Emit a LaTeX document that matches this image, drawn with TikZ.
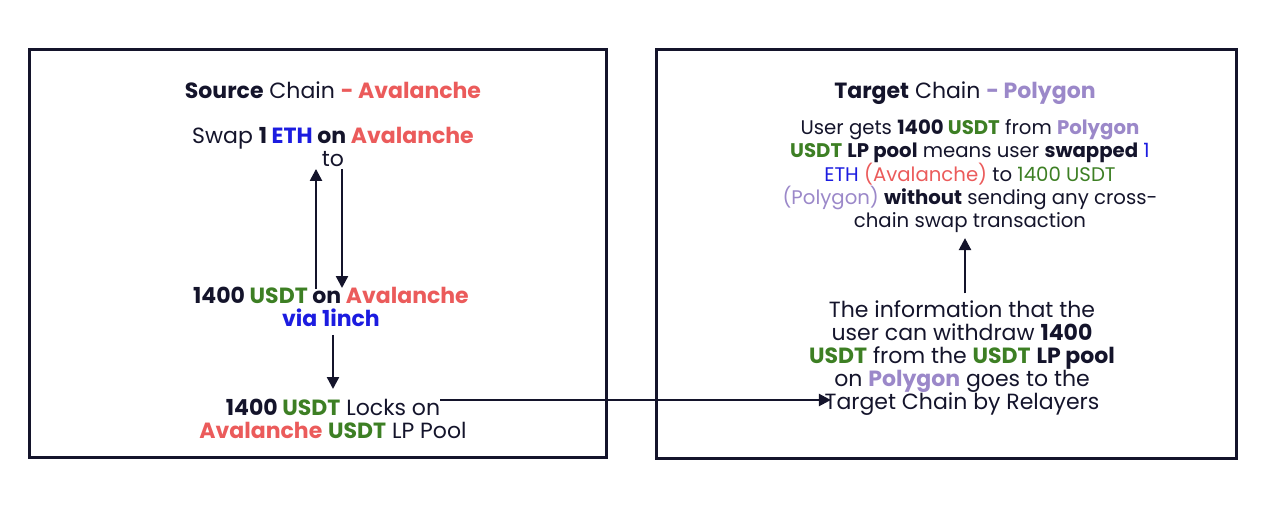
\documentclass[tikz,border=0pt]{standalone}
\usepackage{fontspec}
\setmainfont{Poppins}
\usetikzlibrary{arrows.meta,calc}
\definecolor{ink}{HTML}{14142B}
\definecolor{avred}{HTML}{EB5B5B}
\definecolor{usgreen}{HTML}{3D7F24}
\definecolor{ethblue}{HTML}{1C1CE0}
\definecolor{polyp}{HTML}{9B88C9}
\tikzset{
  txt/.style={align=center, text=ink, font=\fontsize{22}{23}\selectfont, inner sep=2pt},
  small/.style={font=\fontsize{19.7}{23}\selectfont},
  panel/.style={draw=ink, line width=2.6pt},
  arr/.style={draw=ink, line width=2.4pt, -{Triangle[length=12pt,width=12pt]}},
}
\newcommand{\R}[1]{\textcolor{avred}{#1}}
\newcommand{\G}[1]{\textcolor{usgreen}{#1}}
\newcommand{\Bl}[1]{\textcolor{ethblue}{#1}}
\newcommand{\Pp}[1]{\textcolor{polyp}{#1}}
\begin{document}
\begin{tikzpicture}[x=1pt,y=-1pt]
\useasboundingbox (0,0) rectangle (1274,508);
\node[panel, minimum width=577pt, minimum height=408pt, anchor=north west] (left) at (28,48) {};
\node[panel, minimum width=580pt, minimum height=409pt, anchor=north west] (right) at (655,48) {};

\node[txt] (t1) at (333,90) {\textbf{Source} Chain \R{\textbf{- Avalanche}}};
\node[txt] (swap) at (333,147) {Swap \textbf{1 \Bl{ETH} on \R{Avalanche}}\\to};
\node[txt] (usdt1) at (331,307) {\textbf{1400 \G{USDT} on \R{Avalanche}}\\\Bl{\textbf{via 1inch}}};
\node[txt] (lock) at (333,419) {\textbf{1400 \G{USDT}} Locks on\\\R{\textbf{Avalanche}} \G{\textbf{USDT}} LP Pool};

\node[txt] (t2) at (965,93) {\textbf{Target} Chain \Pp{\textbf{- Polygon}}};
\node[txt, small] (gets) at (970,176) {User gets \textbf{1400 \G{USDT}} from \Pp{\textbf{Polygon}}\\
\G{\textbf{USDT}} \textbf{LP pool} means user \textbf{swapped} \Bl{1}\\
\Bl{ETH} \R{(Avalanche)} to \G{1400 USDT}\\
\Pp{(Polygon)} \textbf{without} sending any cross-\\
chain swap transaction};
\node[txt] (info) at (962,358) {The information that the\\
user can withdraw \textbf{1400}\\
\G{\textbf{USDT}} from the \G{\textbf{USDT}} \textbf{LP pool}\\
on \Pp{\textbf{Polygon}} goes to the\\
Target Chain by Relayers};

\draw[arr, shorten <=-4pt] (usdt1.north -| 316,0) -- (swap.south -| 316,0);
\draw[arr, shorten >=-3pt] (swap.south -| 342,0) -- (usdt1.north -| 342,0);
\draw[arr, shorten <=6pt, shorten >=8pt] (usdt1.south -| 333,0) -- (lock.north -| 333,0);
\draw[arr, shorten <=5pt, shorten >=3pt] (info.north -| 965,0) -- (gets.south -| 965,0);
\coordinate (hstart) at (440,400);
\draw[arr] (hstart) -- ($(info.west |- hstart)+(24,0)$);
\end{tikzpicture}
\end{document}
